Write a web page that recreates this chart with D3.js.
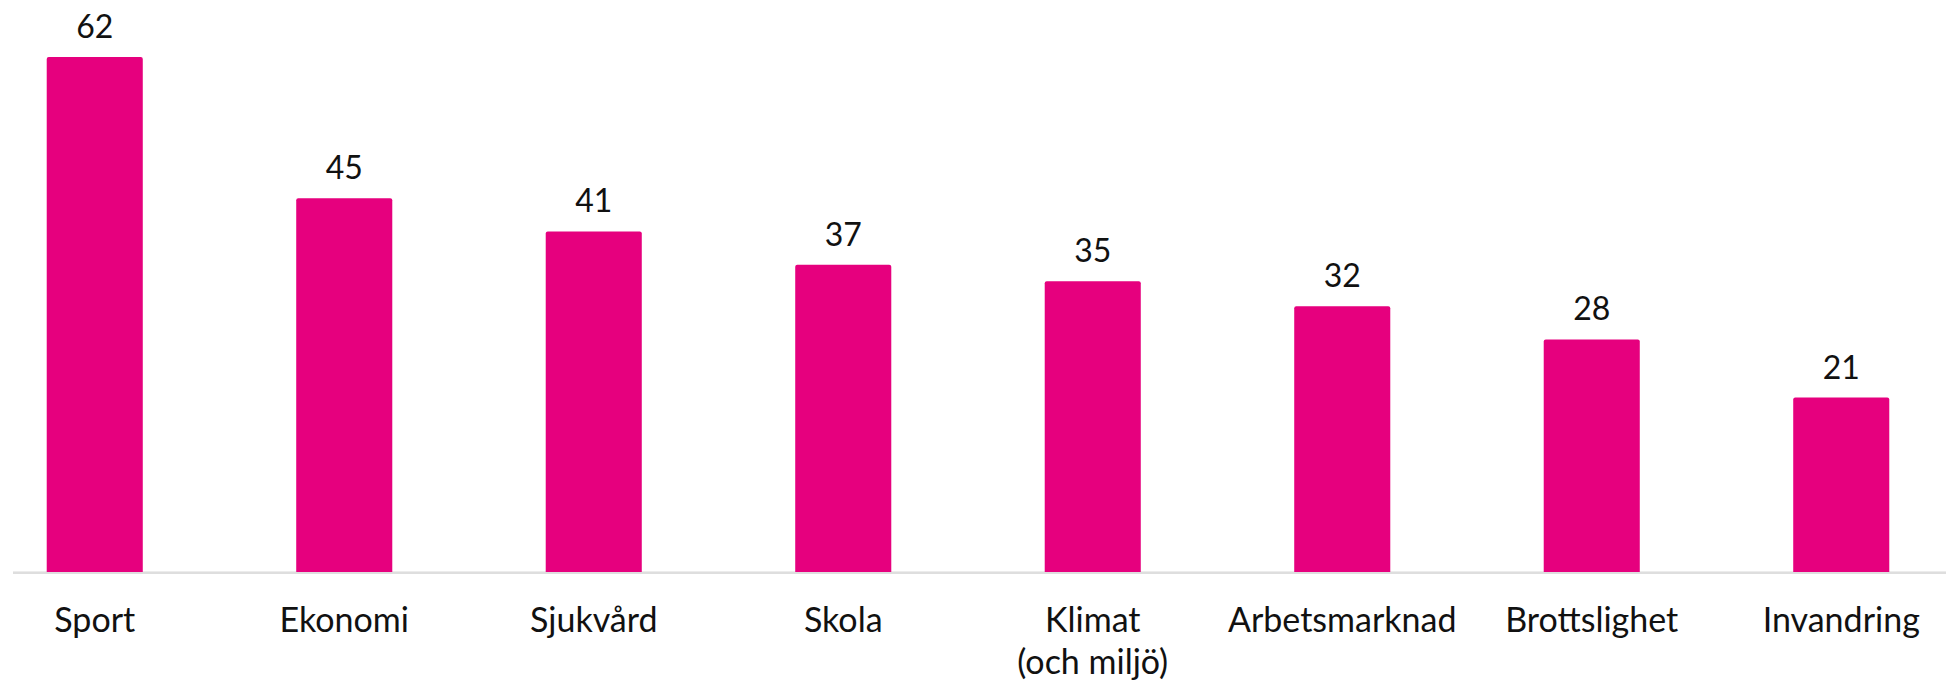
<!DOCTYPE html>
<html lang="sv">
<head>
    <meta charset="UTF-8">
    <title>Ämnen</title>
    <script src="https://d3js.org/d3.v7.min.js"></script>
    <style>
        body { margin: 0; background: #fff; }
    </style>
</head>
<body>
    <div id="chart"></div>
    <script>
        // data
        const categories = ["Sport", "Ekonomi", "Sjukvård", "Skola", "Klimat\n(och miljö)", "Arbetsmarknad", "Brottslighet", "Invandring"];
        const values = [62, 45, 41, 37, 35, 32, 28, 21];

        const width = 1946, height = 684;
        const baseY = 572;

        const svg = d3.select('#chart')
            .append('svg')
                .attr('width', width)
                .attr('height', height)
                .style('font-family', 'Lato, "Noto Sans", sans-serif');

        const x = d3.scaleBand()
            .domain(categories)
            .range([-30, 1966])
            .paddingInner(0.615)
            .paddingOuter(0.3075);

        const y = d3.scaleLinear()
            .domain([0, 62])
            .range([baseY, 57]);

        // baseline
        svg.append('line')
            .attr('x1', 13)
            .attr('x2', width)
            .attr('y1', baseY + 0.5)
            .attr('y2', baseY + 0.5)
            .attr('stroke', '#d9d9d9')
            .attr('stroke-width', 2);

        const data = categories.map((c, i) => ({cat: c, val: values[i]}));

        svg.selectAll('rect.bar')
            .data(data)
            .join('rect')
                .attr('class', 'bar')
                .attr('x', d => x(d.cat))
                .attr('y', d => y(d.val))
                .attr('width', x.bandwidth())
                .attr('height', d => baseY - y(d.val) + 2)
                .attr('rx', 2)
                .attr('fill', '#e6007e');

        // redraw baseline over bar bottoms
        svg.append('line')
            .attr('x1', 13)
            .attr('x2', width)
            .attr('y1', baseY + 1)
            .attr('y2', baseY + 1)
            .attr('stroke', '#dedede')
            .attr('stroke-width', 2);

        // value labels
        svg.selectAll('text.val')
            .data(data)
            .join('text')
                .attr('class', 'val')
                .attr('x', d => x(d.cat) + x.bandwidth() / 2)
                .attr('y', d => y(d.val) - 19)
                .attr('text-anchor', 'middle')
                .attr('font-size', 32)
                .attr('fill', '#111')
                .text(d => d.val);

        // category labels
        const lab = svg.selectAll('text.cat')
            .data(data)
            .join('text')
                .attr('class', 'cat')
                .attr('x', d => x(d.cat) + x.bandwidth() / 2)
                .attr('y', 632)
                .attr('text-anchor', 'middle')
                .attr('font-size', 34)
                .attr('fill', '#111');

        lab.selectAll('tspan')
            .data(d => d.cat.split('\n').map(t => ({t, cx: x(d.cat) + x.bandwidth() / 2})))
            .join('tspan')
                .attr('x', d => d.cx)
                .attr('dy', (d, i) => i === 0 ? 0 : 42)
                .text(d => d.t);
    </script>
</body>
</html>
